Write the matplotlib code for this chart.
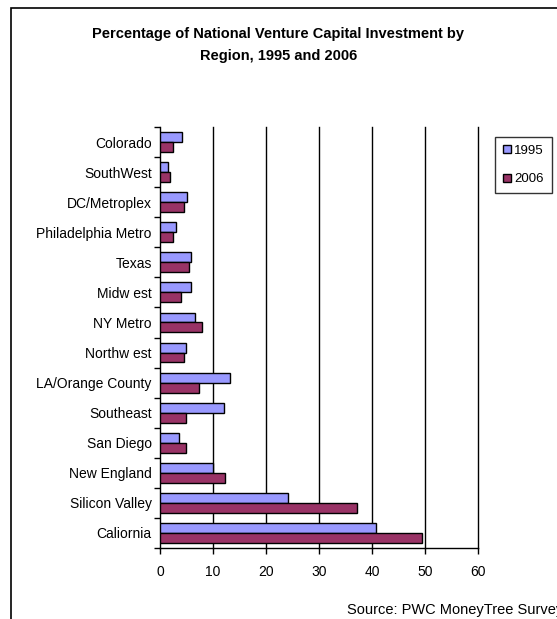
import matplotlib
matplotlib.use("Agg")
import matplotlib.pyplot as plt
from matplotlib.patches import Patch, Rectangle
import numpy as np

plt.rcParams['font.family'] = ['Liberation Sans', 'DejaVu Sans']

regions = ["Caliornia", "Silicon Valley", "New England", "San Diego", "Southeast",
           "LA/Orange County", "Northw est", "NY Metro", "Midw est", "Texas",
           "Philadelphia Metro", "DC/Metroplex", "SouthWest", "Colorado"]
pct_1995 = [40.8, 24.2, 10.0, 3.6, 12.1, 13.3, 4.9, 6.6, 5.9, 5.9, 3.1, 5.1, 1.5, 4.1]
pct_2006 = [49.5, 37.2, 12.3, 4.9, 4.9, 7.4, 4.6, 7.9, 3.9, 5.4, 2.5, 4.6, 1.8, 2.5]
xticks = [0, 10, 20, 30, 40, 50, 60]

W, H = 557, 619
fig = plt.figure(figsize=(W / 100, H / 100), dpi=100)

# chart frame (runs off the right/bottom of the picture)
fig.patches.append(Rectangle((11 / W, -0.1), 1.2, 1 - 8 / H + 0.1, transform=fig.transFigure,
                             fill=False, edgecolor="black", linewidth=1.2))

ax = fig.add_axes([160 / W, 1 - 548 / H, 318 / W, 421 / H])

y = np.arange(len(regions))
h = 0.33
ax.barh(y + h / 2, pct_1995, height=h, color="#9999FF", edgecolor="black", linewidth=1.0,
        label="1995", zorder=3)
ax.barh(y - h / 2, pct_2006, height=h, color="#993366", edgecolor="black", linewidth=1.0,
        label="2006", zorder=3)

ax.set_xlim(0, 60)
ax.set_ylim(-0.5, len(regions) - 0.5)
ax.set_xticks(xticks)
ax.set_xticklabels([str(t) for t in xticks], fontsize=10)
ax.set_yticks(y)
ax.set_yticklabels(regions, fontsize=10)
ax.tick_params(axis="y", which="major", length=0, pad=6)
ax.set_yticks(np.arange(-0.5, len(regions)), minor=True)
ax.tick_params(axis="y", which="minor", length=4, width=1)
ax.tick_params(axis="x", length=4, width=1, pad=8)

for t in xticks[1:]:
    ax.axvline(t, color="black", linewidth=1.0, zorder=1, clip_on=False)

for s in ["top", "right"]:
    ax.spines[s].set_visible(False)
ax.spines["left"].set_linewidth(1.0)
ax.spines["bottom"].set_linewidth(1.0)

fig.text(0.5, 1 - 34 / H, "Percentage of National Venture Capital Investment by",
         ha="center", va="center", fontsize=10.5, fontweight="bold")
fig.text(0.5, 1 - 56 / H, "Region, 1995 and 2006",
         ha="center", va="center", fontsize=10.5, fontweight="bold")

handles = [Patch(facecolor="#9999FF", edgecolor="black", label="1995"),
           Patch(facecolor="#993366", edgecolor="black", label="2006")]
leg = fig.legend(handles=handles, loc="upper left", bbox_to_anchor=(495 / W, 1 - 137 / H),
                 fontsize=9.5, frameon=True, fancybox=False, handlelength=0.6, handleheight=0.6,
                 handletextpad=0.25, borderpad=0.6, borderaxespad=0, labelspacing=1.25)
leg.get_frame().set_edgecolor("black")
leg.get_frame().set_linewidth(1.0)

fig.text(347 / W, 1 - 610 / H, "Source: PWC MoneyTree Survey", ha="left", va="center",
         fontsize=10.5)

fig.savefig("out.png", dpi=100)
